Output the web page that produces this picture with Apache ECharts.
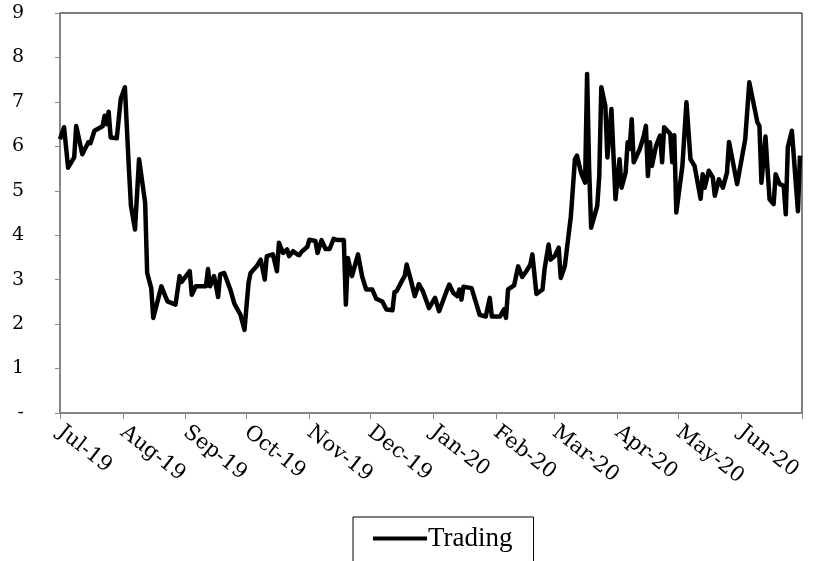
<!DOCTYPE html>
<html>
<head>
<meta charset="utf-8">
<script src="https://cdn.jsdelivr.net/npm/echarts@6/dist/echarts.min.js"></script>
<style>
  html, body { margin: 0; padding: 0; background: #fff; }
  #chart { width: 814px; height: 561px; }
</style>
</head>
<body>
<div id="chart"></div>
<script>
var dates = [
  '2019-07-01', '2019-07-03', '2019-07-05', '2019-07-08', '2019-07-09', '2019-07-12', '2019-07-15', '2019-07-16',
  '2019-07-18', '2019-07-22', '2019-07-23', '2019-07-24', '2019-07-25', '2019-07-26', '2019-07-29', '2019-07-31',
  '2019-08-02', '2019-08-04', '2019-08-05', '2019-08-07', '2019-08-09', '2019-08-12', '2019-08-13', '2019-08-15',
  '2019-08-16', '2019-08-20', '2019-08-23', '2019-08-27', '2019-08-29', '2019-08-30', '2019-09-03', '2019-09-04',
  '2019-09-06', '2019-09-11', '2019-09-12', '2019-09-13', '2019-09-15', '2019-09-17', '2019-09-18', '2019-09-20',
  '2019-09-23', '2019-09-25', '2019-09-28', '2019-09-30', '2019-10-02', '2019-10-03', '2019-10-06', '2019-10-08',
  '2019-10-10', '2019-10-11', '2019-10-14', '2019-10-16', '2019-10-17', '2019-10-19', '2019-10-21', '2019-10-22',
  '2019-10-24', '2019-10-26', '2019-10-27', '2019-10-28', '2019-10-31', '2019-11-01', '2019-11-04', '2019-11-05',
  '2019-11-07', '2019-11-09', '2019-11-11', '2019-11-13', '2019-11-15', '2019-11-18', '2019-11-19', '2019-11-20',
  '2019-11-22', '2019-11-25', '2019-11-27', '2019-11-28', '2019-11-29', '2019-12-02', '2019-12-04', '2019-12-07',
  '2019-12-09', '2019-12-12', '2019-12-13', '2019-12-14', '2019-12-17', '2019-12-18', '2019-12-19', '2019-12-21',
  '2019-12-23', '2019-12-25', '2019-12-27', '2019-12-30', '2020-01-02', '2020-01-04', '2020-01-08', '2020-01-09',
  '2020-01-11', '2020-01-13', '2020-01-14', '2020-01-15', '2020-01-16', '2020-01-20', '2020-01-22', '2020-01-24',
  '2020-01-27', '2020-01-29', '2020-01-30', '2020-02-03', '2020-02-05', '2020-02-06', '2020-02-07', '2020-02-10',
  '2020-02-12', '2020-02-14', '2020-02-16', '2020-02-18', '2020-02-19', '2020-02-21', '2020-02-24', '2020-02-25',
  '2020-02-27', '2020-02-28', '2020-03-01', '2020-03-03', '2020-03-04', '2020-03-06', '2020-03-09', '2020-03-11',
  '2020-03-12', '2020-03-14', '2020-03-16', '2020-03-17', '2020-03-18', '2020-03-19', '2020-03-22', '2020-03-23',
  '2020-03-24', '2020-03-26', '2020-03-27', '2020-03-29', '2020-03-30', '2020-03-31', '2020-04-02', '2020-04-03',
  '2020-04-05', '2020-04-06', '2020-04-07', '2020-04-08', '2020-04-09', '2020-04-12', '2020-04-14', '2020-04-15',
  '2020-04-16', '2020-04-17', '2020-04-18', '2020-04-20', '2020-04-22', '2020-04-23', '2020-04-24', '2020-04-27',
  '2020-04-28', '2020-04-29', '2020-04-30', '2020-05-03', '2020-05-05', '2020-05-07', '2020-05-09', '2020-05-12',
  '2020-05-13', '2020-05-14', '2020-05-16', '2020-05-18', '2020-05-19', '2020-05-21', '2020-05-23', '2020-05-25',
  '2020-05-26', '2020-05-30', '2020-06-03', '2020-06-05', '2020-06-09', '2020-06-10', '2020-06-11', '2020-06-13',
  '2020-06-14', '2020-06-15', '2020-06-17', '2020-06-18', '2020-06-20', '2020-06-22', '2020-06-23', '2020-06-24',
  '2020-06-26', '2020-06-29', '2020-06-30'
];

var trading = [
  6.16, 6.43, 5.52, 5.75, 6.46, 5.82, 6.09, 6.07,
  6.35, 6.45, 6.69, 6.50, 6.78, 6.20, 6.18, 7.07,
  7.33, 5.49, 4.66, 4.13, 5.71, 4.73, 3.15, 2.81,
  2.14, 2.85, 2.51, 2.44, 3.08, 2.95, 3.19, 2.66,
  2.85, 2.85, 3.24, 2.85, 3.08, 2.61, 3.12, 3.15,
  2.78, 2.46, 2.21, 1.87, 2.93, 3.15, 3.30, 3.45,
  3.00, 3.53, 3.57, 3.19, 3.83, 3.60, 3.68, 3.53,
  3.64, 3.57, 3.55, 3.62, 3.74, 3.90, 3.87, 3.60,
  3.89, 3.69, 3.69, 3.92, 3.89, 3.89, 2.44, 3.49,
  3.08, 3.57, 3.08, 2.93, 2.78, 2.78, 2.57, 2.51,
  2.33, 2.31, 2.72, 2.74, 3.00, 3.08, 3.34, 3.00,
  2.63, 2.90, 2.74, 2.36, 2.59, 2.29, 2.78, 2.89,
  2.70, 2.63, 2.78, 2.55, 2.84, 2.81, 2.51, 2.21,
  2.17, 2.59, 2.17, 2.17, 2.33, 2.14, 2.78, 2.87,
  3.30, 3.06, 3.19, 3.34, 3.57, 2.68, 2.78, 3.23,
  3.79, 3.45, 3.53, 3.72, 3.04, 3.30, 4.43, 5.71,
  5.79, 5.41, 5.18, 7.63, 5.49, 4.17, 4.66, 5.33,
  7.33, 6.91, 5.75, 6.84, 5.82, 4.81, 5.71, 5.07,
  5.41, 6.09, 5.94, 6.61, 5.64, 5.94, 6.24, 6.46,
  5.33, 6.09, 5.56, 6.01, 6.24, 5.64, 6.43, 6.28,
  5.64, 6.25, 4.51, 5.56, 6.99, 5.71, 5.56, 4.82,
  5.37, 5.07, 5.45, 5.30, 4.89, 5.26, 5.07, 5.41,
  6.10, 5.15, 6.16, 7.44, 6.54, 6.46, 5.18, 6.22,
  5.49, 4.81, 4.70, 5.37, 5.15, 5.11, 4.47, 5.98,
  6.35, 4.54, 5.79
];

var seriesName = 'Trading';
var axisStart = '2019-07-01';
var axisEnd = '2020-07-01';

var points = dates.map(function (d, i) { return [d, trading[i]]; });
var endTime = echarts.time.parse(axisEnd).getTime();

var chart = echarts.init(document.getElementById('chart'), null, { renderer: 'canvas' });
chart.setOption({
  animation: false,
  backgroundColor: '#fff',
  grid: {
    left: 60, right: 12, top: 13, bottom: 148,
    containLabel: false,
    outerBoundsMode: 'none',
    show: true, borderColor: '#000', borderWidth: 1
  },
  legend: {
    data: [seriesName],
    left: 353, top: 517,
    orient: 'horizontal',
    icon: 'rect',
    borderColor: '#000', borderWidth: 1,
    padding: [8, 21, 24, 20],
    itemWidth: 54, itemHeight: 4, itemGap: 0,
    itemStyle: { color: '#000' },
    textStyle: { fontFamily: 'Liberation Serif', fontSize: 27, color: '#000', padding: [0, 0, 0, -4] }
  },
  xAxis: {
    type: 'time',
    min: axisStart,
    max: axisEnd,
    splitNumber: 12,
    minInterval: 28 * 24 * 3600 * 1000,
    splitLine: { show: false },
    axisLine: { lineStyle: { color: '#888', width: 1.5 } },
    axisTick: { show: true, length: 6, lineStyle: { color: '#888' } },
    axisLabel: {
      formatter: function (v) {
        if (v >= endTime) return '';
        return echarts.time.format(v, '{MMM}-{yy}', false);
      },
      rotate: -38,
      margin: 17,
      hideOverlap: false,
      fontFamily: 'DejaVu Serif',
      fontSize: 21,
      color: '#000'
    }
  },
  yAxis: {
    type: 'value',
    min: 0, max: 9, interval: 1,
    splitLine: { show: false },
    axisLine: { show: true, lineStyle: { color: '#888', width: 1.5 } },
    axisTick: { show: true, length: 5, lineStyle: { color: '#888' } },
    axisLabel: {
      margin: 36,
      formatter: function (v) { return v === 0 ? '-' : String(v); },
      fontFamily: 'DejaVu Serif',
      fontSize: 19,
      color: '#000'
    }
  },
  series: [{
    name: seriesName,
    type: 'line',
    data: points,
    symbol: 'none',
    lineStyle: { color: '#000', width: 4.5, join: 'round' },
    itemStyle: { color: '#000' }
  }]
});
</script>
</body>
</html>
